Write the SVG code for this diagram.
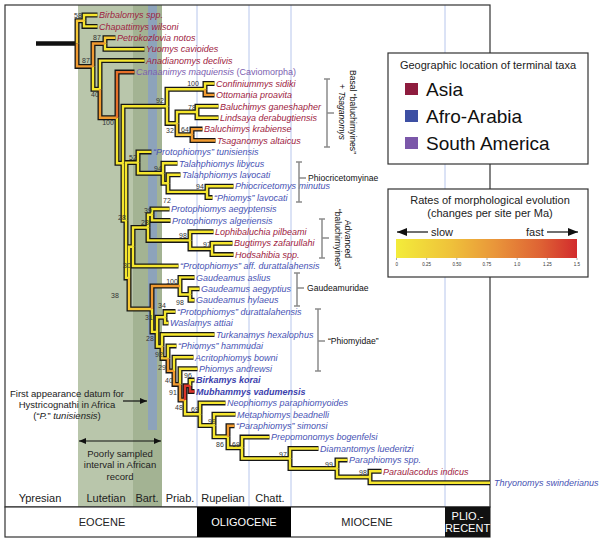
<svg xmlns="http://www.w3.org/2000/svg" width="600" height="543" viewBox="0 0 600 543">
<style>
text{font-family:"Liberation Sans",Arial,sans-serif}
.tx{font-size:9px;font-style:italic}
.as{fill:#9e2242}
.af{fill:#4853b4}
.sa{fill:#7c60b0}
.bd{font-weight:bold;fill:#3b41ad}
.bs{font-size:7px;fill:#333;text-anchor:middle}
.cl{font-size:8.6px;fill:#111}
.br{fill:none;stroke:#8c8c8c;stroke-width:1.5}
.st{font-size:11px;fill:#222;text-anchor:middle}
.ep{font-size:11px;text-anchor:middle}
.vl{stroke:#b7c6ec;stroke-width:1}
.an{font-size:9.5px;fill:#222;text-anchor:middle}
.tk{font-size:4.5px;fill:#333;text-anchor:middle}
</style>
<defs>
<linearGradient id="rate" x1="0" y1="0" x2="1" y2="0">
<stop offset="0" stop-color="#f3ec3a"/>
<stop offset="0.3" stop-color="#efc23a"/>
<stop offset="0.55" stop-color="#e9953a"/>
<stop offset="0.8" stop-color="#de6234"/>
<stop offset="1" stop-color="#d22b2d"/>
</linearGradient>
<marker id="ah" viewBox="0 0 10 10" refX="10" refY="5" markerUnits="userSpaceOnUse" markerWidth="10" markerHeight="8" preserveAspectRatio="none" orient="auto-start-reverse"><path d="M0,0 L10,5 L0,10 z" fill="#111"/></marker>
<marker id="as" viewBox="0 0 10 10" refX="10" refY="5" markerUnits="userSpaceOnUse" markerWidth="7" markerHeight="6" preserveAspectRatio="none" orient="auto-start-reverse"><path d="M0,0 L10,5 L0,10 z" fill="#111"/></marker>
<g id="eY">
<path d="M84 20.7V15H97.5"/><path d="M84 20.7V26.4H97.5"/>
<path d="M105 43.5V49.2H144.5"/><path d="M93 66.4V89.2H100"/><path d="M100 89.2V60.6H144.5"/>
<path d="M117 117.7V163.3H123"/><path d="M123 163.3V106.3H167"/><path d="M167 106.3V89.2H205"/>
<path d="M205 89.2V83.5H214.5"/><path d="M167 106.3V123.4H177"/><path d="M177 123.4V112H197"/>
<path d="M197 112V106.3H218.5"/><path d="M197 112V117.7H218.5"/>
<path d="M123 163.3V220.3H126"/><path d="M126 220.3V162.6H138"/><path d="M138 162.6V151.9H151.5"/>
<path d="M138 162.6V173.3H163"/><path d="M163 173.3V163.3H177.5"/><path d="M163 173.3V183.3H168"/>
<path d="M168 183.3V174.7H180.5"/><path d="M168 183.3V191.9H207"/><path d="M207 191.9V186.2H233.5"/>
<path d="M207 191.9V197.6H212.5"/>
<path d="M126 220.3V277.9H129"/><path d="M129 277.9V246.8H133"/><path d="M133 246.8V227.5H148"/>
<path d="M148 227.5V214.7H152"/><path d="M152 214.7V209H169.5"/><path d="M152 214.7V220.4H170.5"/>
<path d="M148 227.5V240.4H190"/><path d="M190 240.4V231.8H213.5"/><path d="M190 240.4V248.9H212"/>
<path d="M212 248.9V243.2H232.5"/><path d="M212 248.9V254.6H233.5"/><path d="M133 246.8V266H178.5"/>
<path d="M180 286V277.4H194.5"/><path d="M180 286V294.5H190"/><path d="M190 294.5V288.8H199.5"/>
<path d="M190 294.5V300.2H194.5"/>
<path d="M152 309V331.9H157"/><path d="M157 331.9V317.3H165"/><path d="M165 317.3V311.6H175.5"/>
<path d="M165 317.3V323H168.5"/><path d="M157 331.9V346.5H162"/><path d="M162 346.5V334.5H214.5"/>
<path d="M168 358.4V345.9H176.5"/><path d="M174 370.9V357.3H193.5"/><path d="M180 384.4V368.7H197.5"/>
<path d="M190 385.8V380.1H194.5"/>
<path d="M185 400V414.2H200"/><path d="M200 414.2V402.9H225.5"/><path d="M200 414.2V425.5H214"/>
<path d="M214 425.5V414.3H235.5"/><path d="M214 425.5V436.8H228"/><path d="M228 436.8V447.8H242"/>
<path d="M242 447.8V437.1H269.5"/><path d="M242 447.8V458.5H290"/><path d="M290 458.5V448.5H318.5"/>
<path d="M290 458.5V468.5H337"/><path d="M337 468.5V459.9H347.5"/><path d="M337 468.5V477H370"/>
<path d="M370 477V471.3H381.5"/><path d="M370 477V482.7H490"/>
</g>
<g id="eYO">
<path d="M77 43.6V20.7H84"/><path d="M105 43.5V37.8H115.5"/><path d="M177 123.4V134.8H192"/>
<path d="M129 277.9V309H152"/><path d="M162 346.5V358.4H168"/>
</g>
<g id="eO">
<path d="M77 43.6V66.4H93"/><path d="M93 66.4V43.5H105"/><path d="M100 89.2V117.7H117"/>
<path d="M205 89.2V94.9H214.5"/><path d="M192 134.8V129.1H202.5"/><path d="M192 134.8V140.5H215.5"/>
<path d="M152 309V286H180"/><path d="M168 358.4V370.9H174"/><path d="M174 370.9V384.4H180"/>
<path d="M180 384.4V400H185"/><path d="M228 436.8V425.7H234.5"/>
</g>
<g id="eD"><path d="M117 117.7V72.1H134.5"/></g>
<g id="eR"><path d="M185 400V385.8H190"/><path d="M190 385.8V391.5H194.5"/></g>
</defs>

<g id="background">
<rect x="0" y="0" width="600" height="543" fill="#fff"/>
<rect x="78" y="5" width="55" height="502" fill="#b9c6ab"/>
<rect x="133" y="5" width="29" height="502" fill="#a3b393"/>
<rect x="148" y="5" width="9" height="425" fill="#8da3bb"/>
<line class="vl" x1="197" y1="5" x2="197" y2="507"/>
<line class="vl" x1="249" y1="5" x2="249" y2="507"/>
<line class="vl" x1="291" y1="5" x2="291" y2="507"/>
<line class="vl" x1="445" y1="5" x2="445" y2="507"/>
<rect x="5" y="5" width="485" height="502" fill="none" stroke="#333" stroke-width="1.2"/>
</g>

<g id="stages">
<text class="st" x="40" y="502">Ypresian</text>
<text class="st" x="106" y="502">Lutetian</text>
<text class="st" x="147" y="502">Bart.</text>
<text class="st" x="180" y="502">Priab.</text>
<text class="st" x="223" y="502">Rupelian</text>
<text class="st" x="270" y="502">Chatt.</text>
</g>

<g id="epochs">
<rect x="5" y="507" width="485" height="30" fill="#fff" stroke="#333" stroke-width="1.2"/>
<rect x="197" y="507" width="94" height="30" fill="#000"/>
<rect x="445" y="507" width="45" height="30" fill="#111"/>
<text class="ep" x="102" y="526" fill="#222">EOCENE</text>
<text class="ep" x="244" y="526" fill="#fff">OLIGOCENE</text>
<text class="ep" x="367" y="526" fill="#222">MIOCENE</text>
<text class="ep" x="467.5" y="520" fill="#fff" font-size="10">PLIO.-</text>
<text class="ep" x="467.5" y="532" fill="#fff" font-size="10">RECENT</text>
</g>

<g id="connectors" fill="none" stroke-linejoin="miter">
<path d="M36 43.6H77" stroke="#111" stroke-width="4.5"/>
<g stroke="#161616" stroke-width="5">
<use href="#eY"/><use href="#eYO"/><use href="#eO"/><use href="#eD"/><use href="#eR"/>
</g>
<use href="#eY" stroke="#f5e62e" stroke-width="2.4"/>
<use href="#eYO" stroke="#f6c836" stroke-width="2.4"/>
<use href="#eO" stroke="#f09a30" stroke-width="2.4"/>
<use href="#eD" stroke="#e6702a" stroke-width="2.4"/>
<use href="#eR" stroke="#d9352a" stroke-width="2.4"/>
</g>

<g id="support">
<text class="bs" x="78" y="17.5">58</text>
<text class="bs" x="97" y="39.5">87</text>
<text class="bs" x="86" y="62.5">87</text>
<text class="bs" x="95" y="96.5">40</text>
<text class="bs" x="108" y="124.5">100</text>
<text class="bs" x="160" y="102.5">92</text>
<text class="bs" x="193" y="85.5">100</text>
<text class="bs" x="192" y="109.5">78</text>
<text class="bs" x="170" y="132.5">32</text>
<text class="bs" x="185" y="131.5">64</text>
<text class="bs" x="133" y="159.5">52</text>
<text class="bs" x="158" y="170.5">94</text>
<text class="bs" x="167" y="202.5">72</text>
<text class="bs" x="200" y="188.5">94</text>
<text class="bs" x="122" y="219.5">28</text>
<text class="bs" x="148" y="212.5">39</text>
<text class="bs" x="145" y="224.5">28</text>
<text class="bs" x="183" y="237.5">98</text>
<text class="bs" x="207" y="246.5">97</text>
<text class="bs" x="127" y="267.5">30</text>
<text class="bs" x="172" y="283.5">100</text>
<text class="bs" x="180" y="304.5">98</text>
<text class="bs" x="115" y="297.5">38</text>
<text class="bs" x="162" y="307.5">34</text>
<text class="bs" x="149" y="319.5">31</text>
<text class="bs" x="150" y="340.5">28</text>
<text class="bs" x="159" y="356.5">92</text>
<text class="bs" x="162" y="369.5">29</text>
<text class="bs" x="169" y="382.5">40</text>
<text class="bs" x="188" y="377.5">96</text>
<text class="bs" x="173" y="394.5">91</text>
<text class="bs" x="179" y="409.5">48</text>
<text class="bs" x="195" y="411.5">69</text>
<text class="bs" x="212" y="423.5">99</text>
<text class="bs" x="220" y="446.5">86</text>
<text class="bs" x="236" y="446.5">69</text>
<text class="bs" x="283" y="456.5">97</text>
<text class="bs" x="329" y="466.5">99</text>
<text class="bs" x="363" y="474.5">98</text>
</g>

<g class="tx">
<g id="t01"><text class="as" x="99" y="18.2">Birbalomys spp.</text></g>
<g id="t02"><text class="as" x="99" y="29.6">Chapattimys wilsoni</text></g>
<g id="t03"><text class="as" x="117" y="41">Petrokozlovia notos</text></g>
<g id="t04"><text class="as" x="146" y="52.4">Yuomys cavioides</text></g>
<g id="t05"><text class="as" x="146" y="63.8">Anadianomys declivis</text></g>
<g id="t06"><text class="sa" x="136" y="75.3">Canaanimys maquiensis <tspan font-style="normal">(Caviomorpha)</tspan></text></g>
<g id="t07"><text class="as" x="216" y="86.7">Confiniummys sidiki</text></g>
<g id="t08"><text class="as" x="216" y="98.1">Ottomania proavita</text></g>
<g id="t09"><text class="as" x="220" y="109.5">Baluchimys ganeshapher</text></g>
<g id="t10"><text class="as" x="220" y="120.9">Lindsaya derabugtiensis</text></g>
<g id="t11"><text class="as" x="204" y="132.3">Baluchimys  krabiense</text></g>
<g id="t12"><text class="as" x="217" y="143.7">Tsaganomys altaicus</text></g>
<g id="t13"><text class="af" x="153" y="155.1">“Protophiomys”  tunisiensis</text></g>
<g id="t14"><text class="af" x="179" y="166.5">Talahphiomys libycus</text></g>
<g id="t15"><text class="af" x="182" y="177.9">Talahphiomys lavocati</text></g>
<g id="t16"><text class="af" x="235" y="189.4">Phiocricetomys minutus</text></g>
<g id="t17"><text class="af" x="214" y="200.8">“Phiomys”  lavocati</text></g>
<g id="t18"><text class="af" x="171" y="212.2">Protophiomys aegyptensis</text></g>
<g id="t19"><text class="af" x="172" y="223.6">Protophiomys algeriensis</text></g>
<g id="t20"><text class="as" x="215" y="235">Lophibaluchia pilbeami</text></g>
<g id="t21"><text class="as" x="234" y="246.4">Bugtimys zafarullahi</text></g>
<g id="t22"><text class="as" x="235" y="257.8">Hodsahibia spp.</text></g>
<g id="t23"><text class="af" x="180" y="269.2">“Protophiomys” aff. durattalahensis</text></g>
<g id="t24"><text class="af" x="196" y="280.6">Gaudeamus aslius</text></g>
<g id="t25"><text class="af" x="201" y="292">Gaudeamus aegyptius</text></g>
<g id="t26"><text class="af" x="196" y="303.4">Gaudeamus hylaeus</text></g>
<g id="t27"><text class="af" x="177" y="314.8">“Protophiomys” durattalahensis</text></g>
<g id="t28"><text class="af" x="170" y="326.2">Waslamys attiai</text></g>
<g id="t29"><text class="af" x="216" y="337.7">Turkanamys hexalophus</text></g>
<g id="t30"><text class="af" x="178" y="349.1">“Phiomys” hammudai</text></g>
<g id="t31"><text class="af" x="195" y="360.5">Acritophiomys bowni</text></g>
<g id="t32"><text class="af" x="199" y="371.9">Phiomys andrewsi</text></g>
<g id="t33"><text class="bd" x="196" y="383.3">Birkamys korai</text></g>
<g id="t34"><text class="bd" x="196" y="394.7">Mubhammys vadumensis</text></g>
<g id="t35"><text class="af" x="227" y="406.1">Neophiomys paraphiomyoides</text></g>
<g id="t36"><text class="af" x="237" y="417.5">Metaphiomys beadnelli</text></g>
<g id="t37"><text class="af" x="236" y="428.9">“Paraphiomys”  simonsi</text></g>
<g id="t38"><text class="af" x="271" y="440.3">Prepomonomys bogenfelsi</text></g>
<g id="t39"><text class="af" x="320" y="451.7">Diamantomys luederitzi</text></g>
<g id="t40"><text class="af" x="349" y="463.1">Paraphiomys spp.</text></g>
<g id="t41"><text class="as" x="383" y="474.5">Paraulacodus indicus</text></g>
<g id="t42"><text class="af" x="494" y="485.9">Thryonomys swinderianus</text></g>
</g>

<g id="clades">
<path class="br" d="M324 79H330M327 79V147M324 147H330M327 113H334"/>
<text class="cl" transform="translate(350,112) rotate(90)" text-anchor="middle">Basal “baluchimyines”</text>
<text class="cl" transform="translate(339,112) rotate(90)" text-anchor="middle">+ <tspan font-style="italic">Tsaganomys</tspan></text>
<path class="br" d="M296 162H302M299 162V202M296 202H302M299 178H306"/>
<text class="cl" x="308" y="181">Phiocricetomyinae</text>
<path class="br" d="M319 219H325M322 219V258M319 258H325M322 238H329"/>
<text class="cl" transform="translate(345,239) rotate(90)" text-anchor="middle">Advanced</text>
<text class="cl" transform="translate(335,239) rotate(90)" text-anchor="middle">“baluchimyines”</text>
<path class="br" d="M294 273H300M297 273V306M294 306H300M297 288H304"/>
<text class="cl" x="307" y="291">Gaudeamuridae</text>
<path class="br" d="M315 309H321M318 309V371M315 371H321M318 341H325"/>
<text class="cl" x="328" y="344">“Phiomyidae”</text>
</g>

<g id="annotations">
<text class="an" x="67" y="397">First appearance datum for</text>
<text class="an" x="67" y="408">Hystricognathi in Africa</text>
<text class="an" x="67" y="419">(“<tspan font-style="italic">P.</tspan>” <tspan font-style="italic">tunisiensis</tspan>)</text>
<line x1="123" y1="401" x2="147" y2="401" stroke="#111" stroke-width="1.2" marker-end="url(#as)"/>
<line x1="79" y1="441" x2="161" y2="441" stroke="#111" stroke-width="1.2" marker-start="url(#as)" marker-end="url(#as)"/>
<text class="an" x="120" y="457">Poorly sampled</text>
<text class="an" x="120" y="468">interval in African</text>
<text class="an" x="120" y="479.5">record</text>
</g>

<g id="legend-geography">
<rect x="388" y="53" width="200" height="111" fill="#fff" stroke="#333" stroke-width="1.2"/>
<text x="488" y="69" font-size="11" text-anchor="middle" fill="#222">Geographic location of terminal taxa</text>
<rect x="405" y="83" width="13" height="12" fill="#8e1c3e"/>
<text x="426" y="95.5" font-size="19" fill="#111">Asia</text>
<rect x="405" y="110" width="13" height="12" fill="#3d4fa3"/>
<text x="426" y="122.7" font-size="19" fill="#111">Afro-Arabia</text>
<rect x="405" y="137" width="13" height="12" fill="#7b57a9"/>
<text x="426" y="150" font-size="19" fill="#111">South America</text>
</g>

<g id="legend-rates">
<rect x="388" y="189" width="200" height="88" fill="#fff" stroke="#333" stroke-width="1.2"/>
<text x="490" y="204" font-size="11" text-anchor="middle" fill="#222">Rates of morphological evolution</text>
<text x="490" y="217" font-size="11" text-anchor="middle" fill="#222">(changes per site per Ma)</text>
<line x1="428" y1="232" x2="397" y2="232" stroke="#111" stroke-width="1.2" marker-end="url(#ah)"/>
<text x="431" y="236" font-size="11" fill="#222">slow</text>
<text x="526" y="236" font-size="11" fill="#222">fast</text>
<line x1="547" y1="232" x2="578" y2="232" stroke="#111" stroke-width="1.2" marker-end="url(#ah)"/>
<rect x="396" y="239" width="181" height="19" fill="url(#rate)"/>
<path d="M396.5 258v2M426.7 258v2M456.8 258v2M487 258v2M517.2 258v2M547.3 258v2M577 258v2" stroke="#555" stroke-width="0.5"/>
<text class="tk" x="396.7" y="266">0</text>
<text class="tk" x="426.7" y="266">0.25</text>
<text class="tk" x="456.8" y="266">0.50</text>
<text class="tk" x="487" y="266">0.75</text>
<text class="tk" x="517.2" y="266">1.0</text>
<text class="tk" x="547.3" y="266">1.25</text>
<text class="tk" x="577" y="266">1.5</text>
</g>
</svg>
